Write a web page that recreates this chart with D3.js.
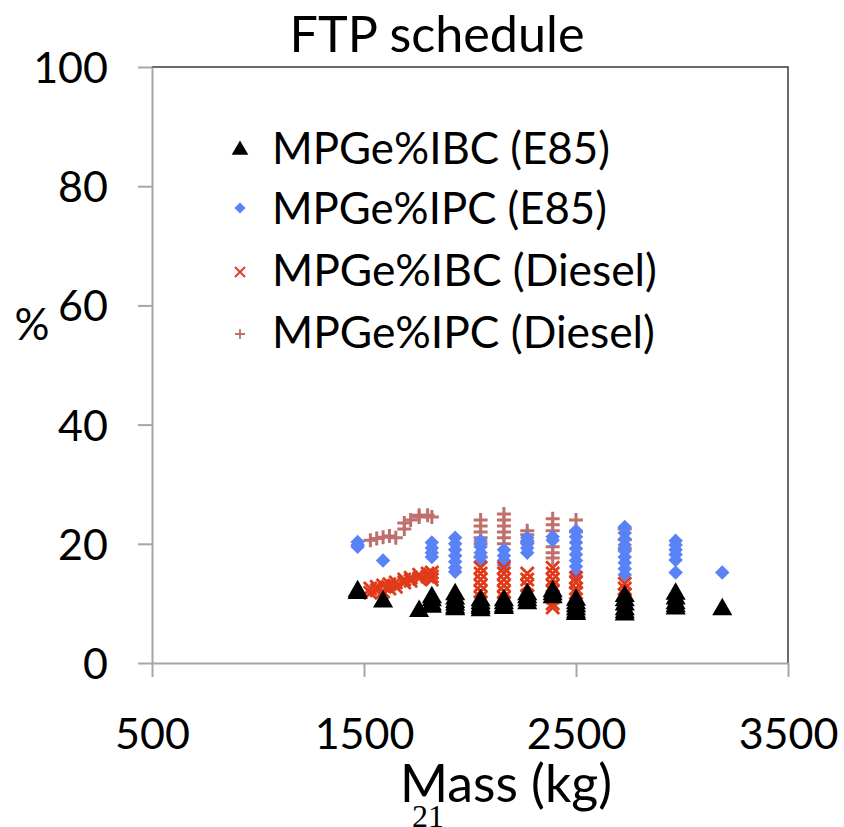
<!DOCTYPE html>
<html><head><meta charset="utf-8">
<script src="https://cdn.jsdelivr.net/npm/d3@7"></script>
<style>html,body{margin:0;padding:0;background:#fff;}svg{display:block;}</style>
</head><body>
<script>
// ---- data (mass kg, percent) ----
const xTickValues = [500, 1500, 2500, 3500];
const yTickValues = [0, 20, 40, 60, 80, 100];
const seriesNames = ["MPGe%IBC (E85)", "MPGe%IPC (E85)", "MPGe%IBC (Diesel)", "MPGe%IPC (Diesel)"];

const ibcE85 = [
  [1470,12.0],[1470,11.7],[1590,10.3],[1760,8.7],
  [1820,11.0],[1820,10.5],[1820,9.8],[1820,9.4],
  [1930,11.5],[1930,10.8],[1930,10.2],[1930,9.8],[1930,9.3],[1930,9.0],
  [2050,10.5],[2050,10.0],[2050,9.5],[2050,9.2],[2050,8.8],
  [2160,10.5],[2160,10.0],[2160,9.5],[2160,9.2],
  [2270,11.5],[2270,11.0],[2270,10.5],[2270,10.0],
  [2390,12.0],[2390,11.5],[2390,11.0],
  [2500,10.6],[2500,10.0],[2500,9.5],[2500,9.0],[2500,8.5],[2500,8.2],
  [2730,11.2],[2730,10.5],[2730,9.8],[2730,9.0],[2730,8.5],[2730,8.1],
  [2970,11.6],[2970,10.8],[2970,10.0],[2970,9.5],[2970,9.1],
  [3190,9.0]
];
const ipcE85 = [
  [1470,20.3],[1470,19.8],[1470,19.5],[1590,17.2],
  [1820,20.2],[1820,19.3],[1820,18.5],[1820,17.8],
  [1930,21.0],[1930,20.0],[1930,19.0],[1930,18.0],[1930,17.0],[1930,16.0],[1930,15.3],
  [2050,20.5],[2050,19.5],[2050,18.5],[2050,17.8],[2050,17.0],
  [2160,19.0],[2160,18.0],[2160,17.2],[2160,16.5],
  [2270,21.0],[2270,20.5],[2270,20.0],[2270,19.3],[2270,18.5],
  [2390,21.2],[2390,20.6],
  [2500,22.2],[2500,21.2],[2500,20.2],[2500,19.2],[2500,18.2],[2500,17.2],[2500,16.2],[2500,15.2],[2500,14.6],
  [2730,22.8],[2730,21.8],[2730,20.8],[2730,19.8],[2730,18.8],[2730,17.8],[2730,16.8],[2730,15.8],[2730,14.8],
  [2970,20.5],[2970,19.8],[2970,19.0],[2970,18.2],[2970,17.3],[2970,15.2],
  [3190,15.2]
];
const ibcDiesel = [
  [1530,12.5],[1530,11.8],[1560,12.8],[1560,12.2],[1590,13.0],[1590,12.0],
  [1620,13.2],[1620,12.5],[1650,13.5],[1650,12.8],[1690,14.0],[1690,13.5],
  [1720,14.3],[1720,13.8],[1760,14.8],[1760,14.2],[1800,15.0],[1800,14.5],
  [1820,15.2],[1820,14.5],[1820,14.0],
  [2050,16.0],[2050,15.0],[2050,14.0],[2050,13.0],[2050,12.0],[2050,11.0],[2050,10.2],
  [2160,16.0],[2160,15.0],[2160,14.0],[2160,13.0],[2160,12.0],[2160,11.0],[2160,10.0],
  [2270,15.0],[2270,14.0],[2270,13.0],[2270,11.3],
  [2390,16.0],[2390,15.0],[2390,14.0],[2390,13.0],[2390,12.0],[2390,11.0],[2390,10.0],[2390,9.3],
  [2500,14.3],[2500,13.5],[2500,12.5],[2500,11.8],
  [2730,13.3],[2730,12.5],[2730,11.5],[2730,10.5]
];
const ipcDiesel = [
  [1530,20.6],[1560,20.9],[1590,21.1],[1620,21.3],[1650,21.0],
  [1690,22.5],[1690,23.5],[1720,24.0],[1760,24.5],[1760,24.8],[1800,24.8],[1820,24.5],
  [2050,24.0],[2050,23.0],[2050,22.0],[2050,21.0],[2050,20.0],[2050,17.8],
  [2160,25.0],[2160,24.0],[2160,23.0],[2160,22.0],[2160,21.0],[2160,20.0],
  [2270,22.2],[2270,21.5],[2270,20.2],
  [2390,24.2],[2390,23.2],[2390,22.2],[2390,19.5],[2390,18.5],[2390,17.6],
  [2500,24.0],[2500,22.0],
  [2730,22.5],[2730,20.7],[2730,19.2]
];

// ---- layout ----
const W = 844, H = 827;
const FONT = "Lato, 'Open Sans', sans-serif";
const svg = d3.select("body").append("svg").attr("width", W).attr("height", H);

const x = d3.scaleLinear().domain([500, 3500]).range([152, 788]);
const y = d3.scaleLinear().domain([0, 100]).range([663, 67]);

function fit(sel, target, base) {
  sel.attr("font-size", base);
  const len = sel.node().getComputedTextLength();
  sel.attr("font-size", base * target / len);
}

// plot area border (top & right)
svg.append("path")
  .attr("d", `M${x(500)},${y(100)}H${x(3500)}V${y(0)}`)
  .attr("fill", "none").attr("stroke", "#3a3a3a").attr("stroke-width", 1.5);

// axes
const axisColor = "#a6a6a6";
const gx = svg.append("g").attr("transform", `translate(0,${y(0)})`)
  .call(d3.axisBottom(x).tickValues(xTickValues).tickSizeOuter(0).tickSizeInner(14).tickFormat(d3.format("d")));
const gy = svg.append("g").attr("transform", `translate(${x(500)},0)`)
  .call(d3.axisLeft(y).tickValues(yTickValues).tickSizeOuter(0).tickSizeInner(14).tickFormat(d3.format("d")));
[gx, gy].forEach(g => {
  g.select(".domain").attr("stroke", axisColor).attr("stroke-width", 2);
  g.selectAll(".tick line").attr("stroke", axisColor).attr("stroke-width", 2);
  g.selectAll("text").attr("fill", "#000").attr("font-family", FONT).attr("font-size", 43);
});
gx.selectAll("text").attr("y", 0).attr("dy", null).attr("transform", "translate(0,86)");
gy.selectAll("text").attr("x", -44).attr("dy", "0.36em");

// markers
const triangle = d3.symbol().type(d3.symbolTriangle).size(175);
const square = d3.symbol().type(d3.symbolSquare).size(105);
const xr = 6.5, pr = 7;

const plot = svg.append("g");
plot.selectAll(".pd").data(ipcDiesel).join("path").attr("class", "pd")
  .attr("d", `M${-pr},0H${pr}M0,${-pr}V${pr}`)
  .attr("transform", d => `translate(${x(d[0])},${y(d[1])})`)
  .attr("stroke", "#c0706c").attr("stroke-width", 3).attr("fill", "none");
plot.selectAll(".pe").data(ipcE85).join("path").attr("class", "pe")
  .attr("d", square)
  .attr("transform", d => `translate(${x(d[0])},${y(d[1])}) rotate(45)`)
  .attr("fill", "#5a82f7");
plot.selectAll(".bd").data(ibcDiesel).join("path").attr("class", "bd")
  .attr("d", `M${-xr},${-xr}L${xr},${xr}M${-xr},${xr}L${xr},${-xr}`)
  .attr("transform", d => `translate(${x(d[0])},${y(d[1])})`)
  .attr("stroke", "#e03a1a").attr("stroke-width", 2.8).attr("fill", "none");
plot.selectAll(".be").data(ibcE85).join("path").attr("class", "be")
  .attr("d", triangle)
  .attr("transform", d => `translate(${x(d[0])},${y(d[1])})`)
  .attr("fill", "#000");

// legend
const legY = [150, 210, 272, 334];
const legW = [338, 335, 385, 383];
const leg = svg.append("g");
seriesNames.forEach((name, i) => {
  const cy = legY[i];
  const mx = 240;
  if (i === 0) leg.append("path").attr("d", d3.symbol().type(d3.symbolTriangle).size(120)).attr("transform", `translate(${mx},${cy})`).attr("fill", "#000");
  if (i === 1) leg.append("path").attr("d", d3.symbol().type(d3.symbolSquare).size(60)).attr("transform", `translate(${mx},${cy - 2}) rotate(45)`).attr("fill", "#5a82f7");
  if (i === 2) leg.append("path").attr("d", "M-5,-5L5,5M-5,5L5,-5").attr("transform", `translate(${mx},${cy})`).attr("stroke", "#e03a1a").attr("stroke-width", 1.8);
  if (i === 3) leg.append("path").attr("d", "M-5,0H5M0,-5V5").attr("transform", `translate(${mx},${cy})`).attr("stroke", "#c0706c").attr("stroke-width", 1.8);
  const t = leg.append("text").attr("x", 272).attr("y", cy + 14).attr("font-family", FONT).attr("fill", "#000").text(name);
  fit(t, legW[i], 40);
});

// title & axis titles
const title = svg.append("text").attr("x", 437).attr("y", 52).attr("text-anchor", "middle")
  .attr("font-family", FONT).attr("fill", "#000").text("FTP schedule");
fit(title, 295, 40);
const xt = svg.append("text").attr("x", 506).attr("y", 802).attr("text-anchor", "middle")
  .attr("font-family", FONT).attr("fill", "#000").text("Mass (kg)");
fit(xt, 212, 44);
const yt = svg.append("text").attr("x", 32).attr("y", 340).attr("text-anchor", "middle")
  .attr("font-family", FONT).attr("fill", "#000").text("%");
fit(yt, 35, 40);

// page number
svg.append("text").attr("x", 428).attr("y", 827).attr("text-anchor", "middle")
  .attr("font-family", "'Liberation Serif', 'Times New Roman', serif").attr("font-size", 32).attr("fill", "#000").text("21");
</script>
</body></html>
